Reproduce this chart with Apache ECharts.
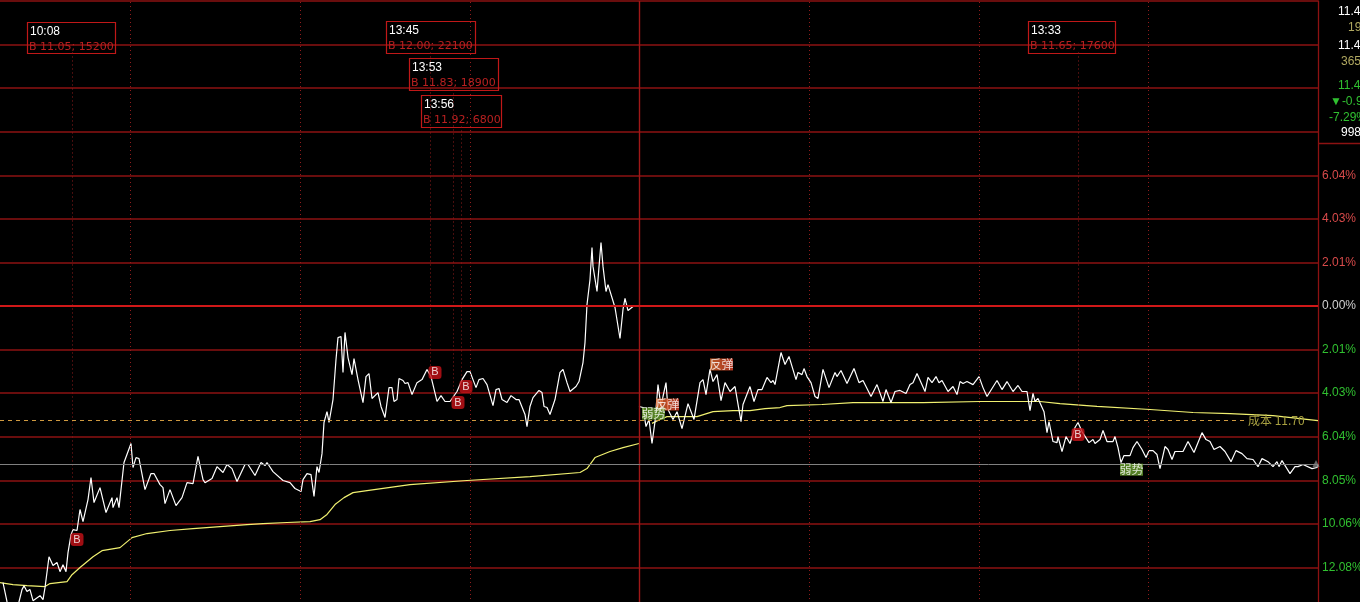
<!DOCTYPE html>
<html><head><meta charset="utf-8">
<style>html,body{margin:0;padding:0;background:#000;overflow:hidden}#c{width:1360px;height:602px}</style>
<script src="https://cdn.jsdelivr.net/npm/echarts@6/dist/echarts.min.js"></script>
</head><body><div id="c"></div>
<script>
// [session tick, % change from previous close]
const priceAm=[[3,-12.78],[7,-13.66],[12,-14.02],[18,-14.02],[19,-13.66],[22,-13.10],[24,-12.92],[27,-13.19],[30,-13.10],[33,-13.61],[35,-13.56],[40,-13.38],[43,-13.56],[45,-13.01],[49,-11.58],[53,-11.99],[57,-11.85],[60,-12.27],[63,-11.95],[66,-12.27],[68,-11.39],[71,-10.56],[73,-10.33],[77,-10.37],[80,-9.40],[83,-9.96],[88,-8.94],[91,-7.92],[94,-9.08],[100,-8.39],[106,-9.54],[112,-8.85],[113,-9.31],[117,-8.85],[119,-9.31],[124,-7.23],[131,-6.35],[133,-7.46],[136,-7.00],[139,-7.05],[145,-8.48],[147,-8.43],[151,-7.74],[154,-7.74],[160,-8.25],[163,-8.39],[165,-9.13],[170,-8.48],[176,-9.22],[182,-8.85],[187,-8.16],[193,-8.20],[198,-6.95],[203,-8.02],[205,-8.16],[212,-7.97],[217,-7.42],[223,-7.69],[227,-7.32],[232,-7.51],[237,-8.11],[245,-7.32],[248,-7.32],[255,-7.83],[261,-7.23],[265,-7.37],[267,-7.23],[273,-7.65],[283,-8.06],[290,-8.16],[295,-8.43],[301,-8.57],[303,-8.02],[307,-7.74],[311,-7.79],[314,-8.80],[317,-7.42],[319,-7.69],[322,-6.82],[324,-5.38],[327,-4.88],[329,-5.38],[333,-4.32],[336,-2.47],[338,-1.46],[341,-1.41],[343,-3.07],[345,-1.22],[348,-2.38],[352,-3.17],[354,-2.43],[358,-3.40],[363,-4.46],[366,-3.26],[369,-3.12],[372,-4.27],[378,-4.00],[381,-4.64],[385,-5.15],[389,-3.77],[392,-3.77],[394,-4.41],[397,-4.32],[399,-3.35],[403,-3.44],[405,-3.58],[408,-3.54],[412,-4.09],[417,-3.54],[422,-3.40],[427,-2.93],[431,-3.26],[437,-4.41],[441,-4.14],[445,-4.41],[450,-4.41],[457,-3.95],[462,-3.40],[467,-3.03],[470,-3.03],[476,-3.77],[479,-3.40],[483,-3.35],[487,-3.63],[493,-4.60],[496,-3.86],[499,-3.81],[502,-4.32],[507,-4.46],[511,-4.14],[513,-4.14],[516,-4.32],[519,-4.32],[525,-5.01],[527,-5.57],[530,-4.64],[533,-4.23],[539,-3.90],[542,-4.00],[544,-4.64],[547,-4.69],[550,-5.01],[552,-5.06],[555,-4.32],[560,-3.07],[563,-2.93],[567,-3.54],[570,-3.95],[572,-3.95],[576,-3.72],[579,-3.49],[583,-2.61],[585,-1.69],[587,0.07],[590,1.22],[592,2.70],[593,1.83],[597,0.67],[601,2.93],[603,1.83],[606,0.67],[608,0.99],[615,-0.07],[620,-1.50],[623,-0.16],[625,0.35],[628,-0.21],[633,-0.02],[639,-0.02]];
const pricePm=[[639,-4.64],[643,-4.69],[646,-5.57],[649,-5.24],[652,-6.35],[655,-5.34],[658,-3.63],[661,-4.64],[663,-4.18],[666,-3.54],[668,-4.78],[673,-5.24],[677,-4.88],[682,-5.66],[688,-4.51],[694,-5.24],[700,-3.54],[703,-3.40],[706,-4.09],[710,-2.93],[713,-3.49],[717,-3.17],[721,-4.37],[725,-3.54],[730,-3.95],[735,-3.72],[737,-3.77],[741,-5.34],[743,-4.55],[750,-3.72],[754,-4.41],[758,-3.86],[762,-3.86],[767,-3.30],[771,-3.54],[773,-3.44],[775,-3.63],[781,-2.15],[785,-2.70],[789,-2.33],[796,-3.40],[798,-3.07],[802,-3.17],[804,-2.89],[807,-3.26],[811,-3.54],[815,-4.18],[818,-4.27],[823,-2.93],[829,-3.77],[835,-3.07],[837,-3.26],[841,-2.98],[843,-3.03],[847,-3.58],[849,-3.54],[854,-2.89],[859,-3.54],[863,-3.44],[871,-4.18],[877,-3.63],[883,-4.41],[886,-3.86],[891,-4.46],[895,-3.95],[900,-3.90],[906,-4.04],[910,-3.63],[913,-3.54],[917,-3.12],[925,-3.95],[928,-3.30],[932,-3.54],[936,-3.26],[939,-3.54],[942,-3.44],[948,-3.95],[953,-3.72],[957,-4.09],[960,-3.49],[963,-3.58],[967,-3.49],[973,-3.63],[979,-3.26],[983,-3.77],[987,-4.18],[997,-3.44],[1002,-3.86],[1007,-3.49],[1013,-3.95],[1018,-3.67],[1022,-3.95],[1027,-3.95],[1030,-4.83],[1033,-4.04],[1035,-4.41],[1038,-4.27],[1044,-4.88],[1047,-5.85],[1049,-5.34],[1053,-6.26],[1057,-6.31],[1058,-6.03],[1062,-6.72],[1066,-6.03],[1070,-6.35],[1075,-5.61],[1078,-5.38],[1082,-5.80],[1083,-5.85],[1089,-6.31],[1093,-6.17],[1095,-6.35],[1100,-6.17],[1103,-5.75],[1107,-6.26],[1113,-6.26],[1115,-6.03],[1118,-6.54],[1121,-7.23],[1124,-6.91],[1130,-6.91],[1133,-6.54],[1137,-6.26],[1142,-6.63],[1146,-7.00],[1149,-6.68],[1153,-6.68],[1157,-6.86],[1160,-7.51],[1165,-6.49],[1168,-6.63],[1172,-7.09],[1175,-6.72],[1183,-6.72],[1188,-6.26],[1194,-6.77],[1202,-5.85],[1206,-6.17],[1210,-6.26],[1214,-6.63],[1220,-6.49],[1225,-6.72],[1231,-7.19],[1236,-6.68],[1242,-6.82],[1247,-7.05],[1253,-7.09],[1258,-7.42],[1262,-7.05],[1268,-7.19],[1273,-7.42],[1277,-7.19],[1279,-7.42],[1282,-7.14],[1290,-7.74],[1295,-7.42],[1298,-7.42],[1303,-7.32],[1312,-7.51],[1317,-7.46],[1318,-7.32]];
const avgAm=[[0,-12.78],[13,-12.87],[27,-12.92],[45,-12.96],[50,-12.82],[67,-12.73],[72,-12.41],[80,-12.08],[93,-11.58],[102,-11.30],[120,-11.16],[132,-10.70],[147,-10.51],[170,-10.37],[193,-10.28],[220,-10.19],[247,-10.10],[263,-10.05],[287,-10.00],[310,-9.96],[320,-9.87],[327,-9.63],[335,-9.17],[344,-8.85],[353,-8.62],[367,-8.53],[410,-8.25],[467,-8.06],[530,-7.88],[580,-7.69],[587,-7.51],[595,-7.00],[610,-6.72],[623,-6.54],[639,-6.35]];
const avgPm=[[652,-5.42],[660,-5.24],[667,-5.11],[697,-5.11],[713,-4.88],[733,-4.83],[750,-4.83],[765,-4.74],[780,-4.69],[787,-4.60],[822,-4.55],[853,-4.46],[923,-4.46],[980,-4.41],[1040,-4.41],[1060,-4.51],[1097,-4.64],[1150,-4.78],[1193,-4.92],[1230,-4.97],[1273,-5.06],[1318,-5.29]];
const yTickLabels=['','12.08%','10.06%','8.05%','6.04%','4.03%','2.01%','0.00%','2.01%','4.03%','6.04%','','','','',''];
const sessionTicks=[130,300,470,809,979,1148];
const breakTicks=[639];
const costPct=-5.27, costEndTick=1247, costLabel='成本 11.70';
const lastPct=-7.29;
const buyPoints=[[77,-10.79],[435,-3.07],[458,-4.46],[466,-3.72],[1078,-5.94]];
const reboundPoints=[[667.5,-4.55],[721.5,-2.70]];
const weakPoints=[[653.5,-4.97],[1131.5,-7.56]];
const signalLinks=[[72,11.71,-10.33],[430,11.71,-2.80],[453,10.00,-4.18],[461,8.29,-3.49],[1078,11.71,-5.38]];
const signalTime=['10:08','13:45','13:53','13:56','13:33'];
const signalText=['B 11.05; 15200','B 12.00; 22100','B 11.83; 18900','B 11.92; 6800','B 11.65; 17600'];
const quoteText=['11.4','19','11.4','365','11.4','▼-0.9','-7.29%','998'];

const FONT='"Liberation Sans",Arial,sans-serif', CJK='"Noto Sans CJK SC",sans-serif';
const RED='#8c1212', BOXRED='#c01818', TXTRED='#b82020';
const boxes=[[27,22,88,31],[386,21,89,32],[409,58,89,32],[421,95,80,32],[1028,21,87,32]];
const quotePos=[[1338,12,'#fff'],[1348,28,'#b0a860'],[1338,46,'#fff'],[1341,62,'#b0a860'],[1338,86,'#30c030'],[1330,102,'#30c030'],[1329,118,'#30c030'],[1341,133,'#fff']];
const graphics=[];
boxes.forEach((b,i)=>{
  graphics.push({type:'rect',z:5,shape:{x:b[0]+.5,y:b[1]+.5,width:b[2],height:b[3]},style:{fill:null,stroke:BOXRED,lineWidth:1.2}});
  graphics.push({type:'text',z:6,style:{x:b[0]+3,y:b[1]+10,text:signalTime[i],fill:'#fff',font:'12px '+FONT,textVerticalAlign:'middle'}});
  graphics.push({type:'text',z:6,style:{x:b[0]+2,y:b[1]+25,text:signalText[i],fill:TXTRED,font:'11px "DejaVu Sans"',textVerticalAlign:'middle'}});
});
quoteText.forEach((t,i)=>{const p=quotePos[i];
  graphics.push({type:'text',z:6,style:{x:p[0],y:p[1],text:t,fill:p[2],font:'12px '+FONT,textVerticalAlign:'middle'}});
});
graphics.push({type:'line',z:5,shape:{x1:1318,y1:143.5,x2:1360,y2:143.5},style:{stroke:RED,lineWidth:1.3}});

const vLine=(t,color,type,w)=>[{xAxis:t,yAxis:-14.0875,lineStyle:{color,type,width:w}},{xAxis:t,yAxis:14.0875}];
const chart=echarts.init(document.getElementById('c'),null,{renderer:'canvas'});
const lineBase={type:'line',showSymbol:false,symbol:'none',silent:true,animation:false,smooth:false};
chart.setOption({
  backgroundColor:'#000',animation:false,
  grid:{left:0,right:42,top:1,bottom:-9,containLabel:false,outerBoundsMode:'none'},
  xAxis:{type:'value',min:0,max:1318,show:false,splitLine:{show:false}},
  yAxis:{type:'value',position:'right',min:-14.0875,max:14.0875,interval:2.0125,
    axisLine:{show:true,onZero:false,lineStyle:{color:RED,width:1.3}},axisTick:{show:false},
    axisLabel:{margin:4,fontFamily:FONT,fontSize:12,
      formatter:(v,i)=>yTickLabels[i],
      color:v=>v>0.01?'#d84a4a':(v<-0.01?'#30c030':'#d0d0d0')},
    splitLine:{show:true,lineStyle:{color:RED,width:1.5}}},
  graphic:graphics,
  series:[
    {...lineBase,name:'guides',data:[],z:1,markLine:{silent:true,symbol:'none',animation:false,label:{show:false},
      data:[
        ...sessionTicks.map(t=>vLine(t,'#901c1c',[1,3],1)),
        ...breakTicks.map(t=>vLine(t,'#a01818','solid',1.4)),
        ...signalLinks.map(s=>[{xAxis:s[0],yAxis:s[1],lineStyle:{color:'#901c1c',type:[1,3],width:1}},{xAxis:s[0],yAxis:s[2]}]),
        [{xAxis:0,yAxis:0,lineStyle:{color:'#d01818',type:'solid',width:2.2}},{xAxis:1318,yAxis:0}],
        [{xAxis:0,yAxis:lastPct,lineStyle:{color:'#808080',type:'solid',width:1}},{xAxis:1318,yAxis:lastPct}],
        [{xAxis:0,yAxis:costPct,lineStyle:{color:'#d09a40',type:[4,4],width:1},
          label:{show:true,position:'end',distance:1,formatter:costLabel,color:'#a8a040',fontFamily:CJK,fontSize:12}},
         {xAxis:costEndTick,yAxis:costPct}]
      ]}},
    {...lineBase,name:'avg am',data:avgAm,z:3,lineStyle:{color:'#f0f070',width:1.2}},
    {...lineBase,name:'avg pm',data:avgPm,z:3,lineStyle:{color:'#f0f070',width:1.2}},
    {...lineBase,name:'price am',data:priceAm,z:4,lineStyle:{color:'#fff',width:1.2}},
    {...lineBase,name:'price pm',data:pricePm,z:4,lineStyle:{color:'#fff',width:1.2}},
    {type:'scatter',name:'last',data:[[1316,lastPct+0.02]],symbol:'triangle',symbolSize:7,z:5,silent:true,itemStyle:{color:'#808080'}},
    {type:'scatter',name:'buy',data:buyPoints,symbol:'roundRect',symbolSize:13,z:6,silent:true,itemStyle:{color:'#c81218'},
      label:{show:true,position:'inside',formatter:'B',color:'#fff',fontFamily:FONT,fontSize:11}},
    {type:'scatter',name:'rebound',data:reboundPoints,symbol:'rect',symbolSize:[23,12],z:6,silent:true,
      itemStyle:{color:new echarts.graphic.LinearGradient(0,0,1,0,[{offset:0,color:'#e87030'},{offset:1,color:'#d84028'}])},
      label:{show:true,position:'inside',formatter:'反弹',color:'#fff',fontFamily:CJK,fontSize:12}},
    {type:'scatter',name:'weak',data:weakPoints,symbol:'rect',symbolSize:[23,12],z:6,silent:true,itemStyle:{color:'#6aa030'},
      label:{show:true,position:'inside',formatter:'弱势',color:'#fff',fontFamily:CJK,fontSize:12}}
  ]
});
</script></body></html>
